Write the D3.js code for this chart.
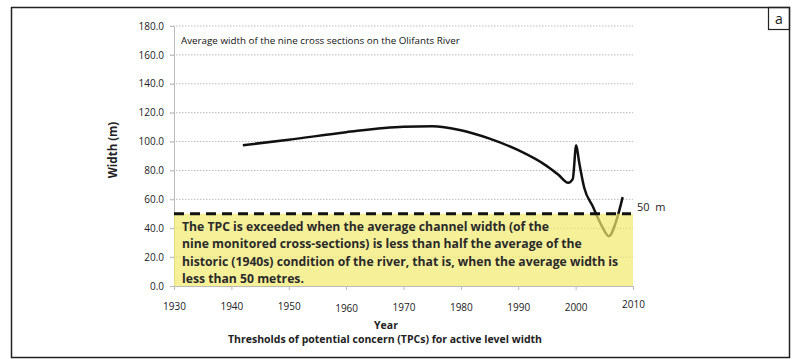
<html lang="en">
<head>
    <meta charset="UTF-8">
    <title>Olifants River width</title>
    <script src="https://cdn.jsdelivr.net/npm/d3@7"></script>
    <style>
        body { margin: 0; background: #fff; }
        text { font-family: "Open Sans", sans-serif; }
    </style>
</head>
<body>
    <svg id="svg"></svg>

    <script>
        var WIDTH = 804;
        var HEIGHT = 359;

        // data
        var years = [1942, 1950, 1960, 1970, 1975, 1980, 1985, 1990, 1995, 1997, 1998.7, 1999.5, 2000.1, 2000.6, 2001.5, 2003, 2004.5, 2005.8, 2007, 2008.2];
        var widths = [97.5, 101.2, 106.5, 110.3, 110.6, 107.8, 102, 94, 83, 77, 71.5, 74, 97.5, 86, 68, 55, 42, 34.5, 44, 61.5];
        var yTicks = [0, 20, 40, 60, 80, 100, 120, 140, 160, 180];
        var xTicks = [1930, 1940, 1950, 1960, 1970, 1980, 1990, 2000, 2010];
        var xTickShift = [0, 0, 0, 2, 1, 1, 1, 1, -2];
        var tpc = 50;
        var noteLines = [
            "The TPC is exceeded when the average channel width (of the",
            "nine monitored cross-sections) is less than half the average of the",
            "historic (1940s) condition of the river, that is, when the average width is",
            "less than 50 metres."
        ];

        var data = years.map(function(y, i){ return {year: y, width: widths[i]}; });

        var svg = d3.select("#svg")
                    .attr("width", WIDTH)
                    .attr("height", HEIGHT);

        // outer frame and panel letter
        svg.append("rect")
           .attr("x", 11.5).attr("y", 7.5)
           .attr("width", 778).attr("height", 350)
           .attr("fill", "none").attr("stroke", "#222").attr("stroke-width", 1.5);
        svg.append("rect")
           .attr("x", 768.5).attr("y", 7.5)
           .attr("width", 21).attr("height", 22)
           .attr("fill", "none").attr("stroke", "#222").attr("stroke-width", 1.2);
        svg.append("text")
           .attr("x", 779).attr("y", 24)
           .attr("text-anchor", "middle")
           .attr("font-size", 14)
           .attr("fill", "#222")
           .text("a");

        var xScale = d3.scaleLinear().domain([1930, 2010]).range([174, 633]);
        var yScale = d3.scaleLinear().domain([0, 180]).range([286, 26]);

        // grid lines
        svg.append("g")
           .selectAll("line")
           .data(yTicks.slice(1))
           .enter()
           .append("line")
           .attr("x1", 170).attr("x2", 633)
           .attr("y1", function(d){ return yScale(d); })
           .attr("y2", function(d){ return yScale(d); })
           .attr("stroke", "#bbb")
           .attr("stroke-width", 1)
           .attr("stroke-dasharray", "1.5,1.5");

        // y axis
        var yAxis = d3.axisLeft(yScale)
                      .tickValues(yTicks)
                      .tickSize(4)
                      .tickPadding(6)
                      .tickFormat(d3.format(".1f"));
        var gy = svg.append("g")
           .attr("transform", "translate(174,0)")
           .call(yAxis);
        gy.select(".domain").attr("stroke", "#bbb");
        gy.selectAll(".tick line").attr("stroke", "#bbb");
        gy.selectAll("text").attr("font-size", 10).attr("fill", "#222")
          .style("font-family", "'Open Sans', sans-serif");

        // x axis
        var xAxis = d3.axisBottom(xScale)
                      .tickValues(xTicks)
                      .tickSize(4)
                      .tickPadding(13)
                      .tickFormat(d3.format("d"));
        var gx = svg.append("g")
           .attr("transform", "translate(0,286)")
           .call(xAxis);
        gx.select(".domain").attr("stroke", "#bbb");
        gx.selectAll(".tick line").attr("stroke", "#bbb");
        gx.selectAll("text").attr("font-size", 10).attr("fill", "#222")
          .style("font-family", "'Open Sans', sans-serif")
          .attr("dy", function(d, i){ return (0.71 * 10 + xTickShift[i]) + "px"; });

        // width series
        var line = d3.line()
                     .x(function(d){ return xScale(d.year); })
                     .y(function(d){ return yScale(d.width); })
                     .curve(d3.curveMonotoneX);
        svg.append("path")
           .datum(data)
           .attr("d", line)
           .attr("fill", "none")
           .attr("stroke", "#111")
           .attr("stroke-width", 2.5)
           .attr("stroke-linejoin", "round");

        // TPC box (drawn over the line, semi transparent)
        svg.append("rect")
           .attr("x", xScale(1930))
           .attr("y", yScale(tpc))
           .attr("width", xScale(2010) - xScale(1930))
           .attr("height", yScale(0) - yScale(tpc))
           .attr("fill", "#f2ea6e")
           .attr("opacity", 0.7);

        svg.append("line")
           .attr("x1", xScale(1930)).attr("x2", xScale(2010) - 2)
           .attr("y1", yScale(tpc)).attr("y2", yScale(tpc))
           .attr("stroke", "#111")
           .attr("stroke-width", 3)
           .attr("stroke-dasharray", "10,6");

        svg.append("text")
           .attr("x", 637).attr("y", yScale(tpc) - 3)
           .attr("font-size", 11)
           .attr("fill", "#222")
           .attr("xml:space", "preserve")
           .text("50  m");

        svg.append("g")
           .selectAll("text")
           .data(noteLines)
           .enter()
           .append("text")
           .attr("x", 182)
           .attr("y", function(d, i){ return 231 + i * 17.3; })
           .attr("font-size", 12.2)
           .attr("font-weight", "bold")
           .attr("fill", "#2a2a2a")
           .text(function(d){ return d; });

        // chart caption inside the plot
        svg.append("text")
           .attr("x", 181).attr("y", 44)
           .attr("font-size", 9.8)
           .attr("fill", "#111")
           .text("Average width of the nine cross sections on the Olifants River");

        // axis titles
        svg.append("text")
           .attr("transform", "translate(117,150) rotate(-90)")
           .attr("text-anchor", "middle")
           .attr("font-size", 11.5)
           .attr("font-weight", "bold")
           .attr("fill", "#222")
           .text("Width (m)");
        svg.append("text")
           .attr("x", 386).attr("y", 329)
           .attr("text-anchor", "middle")
           .attr("font-size", 10.5)
           .attr("font-weight", "bold")
           .attr("fill", "#222")
           .text("Year");
        svg.append("text")
           .attr("x", 385).attr("y", 343)
           .attr("text-anchor", "middle")
           .attr("font-size", 10.5)
           .attr("font-weight", "bold")
           .attr("fill", "#222")
           .text("Thresholds of potential concern (TPCs) for active level width");
    </script>
</body>
</html>
